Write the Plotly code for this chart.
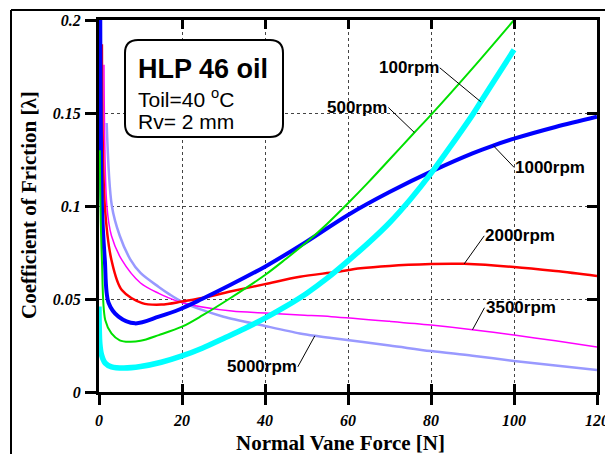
import plotly.graph_objects as go

# ---------------- data ----------------
force_100 = [0, 0.05, 0.2, 0.6, 1.5, 3, 6, 10, 15, 20, 25, 30, 35, 40, 45, 50, 55, 60, 65, 70, 75, 80, 85, 90, 92, 95, 100]
cof_100 = [0.046, 0.035, 0.026, 0.020, 0.0155, 0.0135, 0.0129, 0.0137, 0.016, 0.0194, 0.0237, 0.0288, 0.034, 0.0397,
           0.046, 0.053, 0.0612, 0.0705, 0.0803, 0.091, 0.1035, 0.1175, 0.133, 0.149, 0.156, 0.1665, 0.184]

force_500 = [0.2, 0.35, 0.7, 1.5, 3, 5, 7.2, 10, 14.4, 20, 25, 31.6, 40, 45, 50, 55, 60, 65, 70, 76, 80, 90, 100]
cof_500 = [0.13, 0.1, 0.071, 0.0387, 0.0315, 0.0278, 0.027, 0.0275, 0.0306, 0.0351, 0.0413, 0.0504, 0.0629, 0.0715,
           0.0805, 0.0905, 0.1015, 0.113, 0.125, 0.1395, 0.149, 0.174, 0.2]

force_1000 = [0.3, 0.7, 1.4, 2.3, 4.7, 8.7, 14.4, 19.5, 24.8, 31.6, 40, 50, 60, 70, 80.5, 90, 95, 100, 110, 120]
cof_1000 = [0.2, 0.1, 0.071, 0.048, 0.0405, 0.0369, 0.0405, 0.0445, 0.050, 0.0575, 0.0674, 0.0808, 0.0952,
            0.1075, 0.119, 0.1283, 0.1325, 0.1362, 0.1425, 0.148]

force_2000 = [0.7, 1.4, 3, 5.5, 10.4, 15, 20, 24.8, 31.6, 40, 48.4, 57, 63, 70, 80, 85, 88, 100, 110, 120]
cof_2000 = [0.187, 0.1, 0.071, 0.0548, 0.0478, 0.047, 0.0486, 0.0505, 0.054, 0.058, 0.062, 0.0645, 0.0665, 0.0678,
            0.0688, 0.069, 0.0689, 0.0672, 0.065, 0.0624]

force_3500 = [1.2, 1.9, 3, 5.5, 10, 14.4, 16.4, 20, 32, 40, 48.4, 56, 70, 80, 90, 100, 110, 120]
cof_3500 = [0.176, 0.1, 0.084, 0.071, 0.0586, 0.053, 0.051, 0.048, 0.0435, 0.0425, 0.0414, 0.0405, 0.038, 0.036,
            0.0335, 0.0306, 0.0275, 0.0242]

force_5000 = [1.85, 3.1, 5, 7.5, 10, 14.4, 17, 20, 25, 30, 40, 48.4, 52, 56, 70, 80, 90, 100, 110, 120]
cof_5000 = [0.1446, 0.1, 0.084, 0.0715, 0.064, 0.0565, 0.0525, 0.0485, 0.044, 0.0405, 0.0355, 0.0315, 0.0302, 0.029,
            0.025, 0.022, 0.0195, 0.0167, 0.0142, 0.0118]

series_names = ["100rpm", "500rpm", "1000rpm", "2000rpm", "3500rpm", "5000rpm"]
x_ticks = [0, 20, 40, 60, 80, 100, 120]
y_ticks = [0, 0.05, 0.1, 0.15, 0.2]
y_tick_text = ["0", "0.05", "0.1", "0.15", "0.2"]

# ---------------- layout geometry ----------------
W, H = 605, 454
L, R, T, B = 99, 597, 20, 392


def px(x):
    return (x - L) / (R - L)


def py(y):
    return (B - y) / (B - T)


series = [
    (force_100, cof_100, "#00ffff", 5.5),
    (force_500, cof_500, "#00e000", 2),
    (force_1000, cof_1000, "#0000ff", 4),
    (force_2000, cof_2000, "#ff0000", 2.5),
    (force_3500, cof_3500, "#ff00ff", 1.5),
    (force_5000, cof_5000, "#9999ff", 2.5),
]

fig = go.Figure()
draw_order = [5, 4, 3, 2, 1, 0]
for i in draw_order:
    xs, ys, col, w = series[i]
    fig.add_trace(go.Scatter(x=xs, y=ys, mode="lines", name=series_names[i],
                             line=dict(color=col, width=w, shape="spline", smoothing=0.9),
                             showlegend=False, hoverinfo="skip"))

# invisible helpers so the mirrored tick axes get drawn
fig.add_trace(go.Scatter(x=[force_100[0]], y=[cof_100[0]], xaxis="x2", yaxis="y2", mode="markers",
                         marker=dict(opacity=0), showlegend=False, hoverinfo="skip"))
fig.add_trace(go.Scatter(x=[force_100[0]], y=[cof_100[0]], xaxis="x3", yaxis="y", mode="markers",
                         marker=dict(opacity=0), showlegend=False, hoverinfo="skip"))

tickfont = dict(family="Liberation Serif", size=16, color="black", weight="bold", style="italic")
grid = dict(showgrid=True, gridcolor="#444", gridwidth=1, griddash="dot")
common = dict(automargin=False, zeroline=False, tickcolor="black", tickwidth=2.5, linecolor="black")

fig.update_layout(
    width=W, height=H,
    margin=dict(l=L, r=W - R, t=T, b=H - B, pad=0, autoexpand=False),
    paper_bgcolor="white", plot_bgcolor="white",
    xaxis=dict(range=[0, 120], tickvals=x_ticks, ticks="outside", ticklen=10, showline=True, linewidth=3,
               tickfont=tickfont, ticklabelstandoff=2, ticklabeloverflow="allow", **grid, **common),
    yaxis=dict(range=[0, 0.2], tickvals=y_ticks, ticktext=y_tick_text, ticks="outside", ticklen=11,
               showline=True, linewidth=3, tickfont=tickfont, ticklabelstandoff=1, **grid, **common),
    xaxis2=dict(range=[0, 120], tickvals=x_ticks, overlaying="x", anchor="y2", side="top",
                ticks="inside", ticklen=9, showline=True, linewidth=3,
                showticklabels=False, showgrid=False, **common),
    yaxis2=dict(range=[0, 0.2], tickvals=y_ticks, overlaying="y", anchor="x2", side="right",
                ticks="inside", ticklen=10, showline=True, linewidth=3,
                showticklabels=False, showgrid=False, **common),
    xaxis3=dict(range=[0, 120], tickvals=x_ticks, overlaying="x", anchor="y", side="bottom",
                ticks="inside", ticklen=8, showline=False,
                showticklabels=False, showgrid=False, **common),
)

# outer frame (only its top and left edges fall inside the image)
fig.add_shape(type="line", xref="paper", yref="paper", x0=px(11), x1=px(W), y0=py(10), y1=py(10),
              line=dict(color="black", width=2), layer="above")
fig.add_shape(type="line", xref="paper", yref="paper", x0=px(11), x1=px(11), y0=py(10), y1=py(H),
              line=dict(color="black", width=2), layer="above")

# rounded info box
bx0, bx1, by0, by1, rad = 125, 283, 40, 137, 13
path = (f"M {px(bx0 + rad)},{py(by0)} L {px(bx1 - rad)},{py(by0)} "
        f"Q {px(bx1)},{py(by0)} {px(bx1)},{py(by0 + rad)} L {px(bx1)},{py(by1 - rad)} "
        f"Q {px(bx1)},{py(by1)} {px(bx1 - rad)},{py(by1)} L {px(bx0 + rad)},{py(by1)} "
        f"Q {px(bx0)},{py(by1)} {px(bx0)},{py(by1 - rad)} L {px(bx0)},{py(by0 + rad)} "
        f"Q {px(bx0)},{py(by0)} {px(bx0 + rad)},{py(by0)} Z")
fig.add_shape(type="path", xref="paper", yref="paper", path=path,
              line=dict(color="black", width=2), fillcolor="white", layer="above")

sans = "Liberation Sans, Arial, sans-serif"
serif = "Liberation Serif, Times New Roman, serif"
box_lines = [("<b>HLP 46 oil</b>", 69, 27), ("Toil=40 <sup>o</sup>C", 98, 21), ("Rv= 2 mm", 121, 21)]
for txt, yy, fs in box_lines:
    fig.add_annotation(xref="paper", yref="paper", x=px(136), y=py(yy), text=txt, showarrow=False,
                       xanchor="left", yanchor="middle", font=dict(family=sans, size=fs, color="black"))

# curve labels with leader lines: (series index, point index, ax, ay, xanchor)
label_specs = [
    (0, force_100.index(92), -41, -34, "right"),
    (1, force_500.index(76), -26, -25, "right"),
    (2, force_1000.index(95), 21, 22, "left"),
    (3, force_2000.index(88), 20, -28, "left"),
    (4, force_3500.index(90), 12, -22, "left"),
    (5, force_5000.index(52), -17, 31, "right"),
]
for si, pi, ax, ay, xa in label_specs:
    xs, ys, _, _ = series[si]
    fig.add_annotation(x=xs[pi], y=ys[pi], xref="x", yref="y", text=f"<b>{series_names[si]}</b>",
                       showarrow=True, arrowhead=0, arrowwidth=1, arrowcolor="black", ax=ax, ay=ay,
                       axref="pixel", ayref="pixel", xanchor=xa, yanchor="middle", standoff=0,
                       borderpad=0, font=dict(family=sans, size=17, color="black"))

# axis titles
fig.add_annotation(xref="paper", yref="paper", x=px(340), y=py(443), text="<b>Normal Vane Force [N]</b>",
                   showarrow=False, xanchor="center", yanchor="middle",
                   font=dict(family=serif, size=21, color="black"))
fig.add_annotation(xref="paper", yref="paper", x=px(29), y=py(205), text="<b>Coefficient of Friction [λ]</b>",
                   showarrow=False, xanchor="center", yanchor="middle", textangle=-90,
                   font=dict(family=serif, size=21, color="black"))

fig.write_html("out.html")
